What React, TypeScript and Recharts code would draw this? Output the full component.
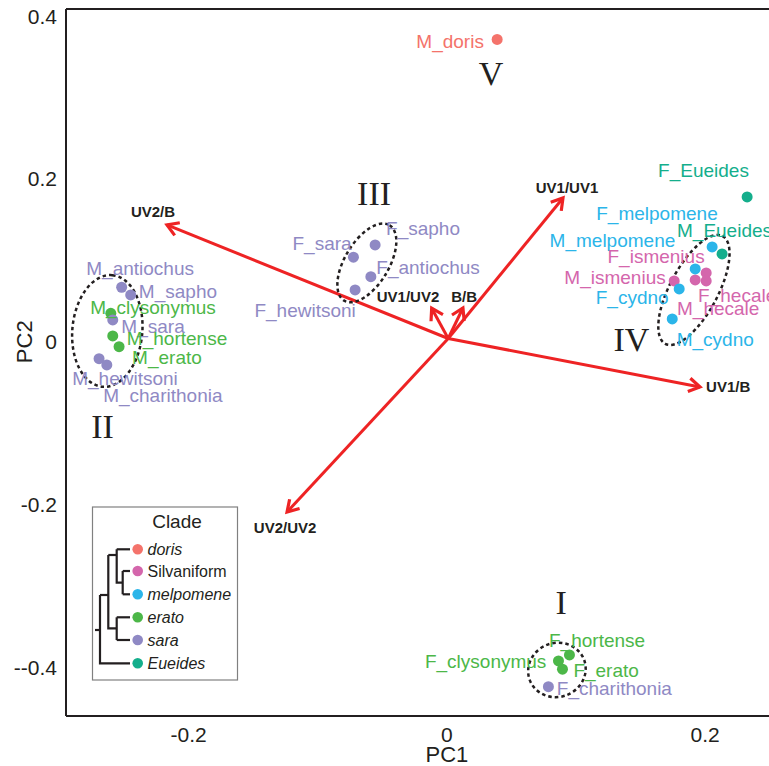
import React from 'react';
import { ScatterChart, Scatter, XAxis, YAxis, ReferenceLine } from 'recharts';

// ---------- axes ----------
const X_MIN = -0.295;
const X_MAX = 0.275;
const Y_MIN = -0.46;
const Y_MAX = 0.409;
const xTicks = [-0.2, 0, 0.2];
const xTickLabels = ['-0.2', '0', '0.2'];
const yTicks = [0.4, 0.2, 0, -0.2, -0.4];
const yTickLabels = ['0.4', '0.2', '0', '-0.2', '--0.4'];

// ---------- clades ----------
const cladeNames = ['doris', 'Silvaniform', 'melpomene', 'erato', 'sara', 'Eueides'];
const cladeColors = ['#F4736B', '#D466AC', '#2BB5E9', '#4CB748', '#8F89C4', '#14AE8C'];
const cladeItalic = [true, false, true, true, true, true];

// ---------- specimens (PC1, PC2) ----------
const dorisPoints = [{ name: 'M_doris', pc1: 0.0389, pc2: 0.3716 }];
const silvaniformPoints = [
  { name: 'M_ismenius', pc1: 0.176, pc2: 0.0747 },
  { name: 'F_ismenius', pc1: 0.2008, pc2: 0.0846 },
  { name: 'F_hecale', pc1: 0.2008, pc2: 0.0747 },
  { name: 'M_hecale', pc1: 0.1923, pc2: 0.076 },
];
const melpomenePoints = [
  { name: 'F_melpomene', pc1: 0.2054, pc2: 0.1165 },
  { name: 'M_melpomene', pc1: 0.1923, pc2: 0.0895 },
  { name: 'F_cydno', pc1: 0.1799, pc2: 0.0649 },
  { name: 'M_cydno', pc1: 0.1745, pc2: 0.028 },
];
const eratoPoints = [
  { name: 'M_clysonymus', pc1: -0.2603, pc2: 0.035 },
  { name: 'M_hortense', pc1: -0.2588, pc2: 0.0071 },
  { name: 'M_erato', pc1: -0.2539, pc2: -0.006 },
  { name: 'F_hortense', pc1: 0.0949, pc2: -0.385 },
  { name: 'F_clysonymus', pc1: 0.0864, pc2: -0.3923 },
  { name: 'F_erato', pc1: 0.0895, pc2: -0.4025 },
];
const saraPoints = [
  { name: 'M_antiochus', pc1: -0.2519, pc2: 0.067 },
  { name: 'M_sapho', pc1: -0.2449, pc2: 0.0575 },
  { name: 'M_sara', pc1: -0.2588, pc2: 0.0268 },
  { name: 'M_hewitsoni', pc1: -0.2694, pc2: -0.0208 },
  { name: 'M_charithonia', pc1: -0.2634, pc2: -0.0285 },
  { name: 'F_sapho', pc1: -0.0556, pc2: 0.119 },
  { name: 'F_sara', pc1: -0.0724, pc2: 0.1039 },
  { name: 'F_antiochus', pc1: -0.0589, pc2: 0.08 },
  { name: 'F_hewitsoni', pc1: -0.0711, pc2: 0.0637 },
  { name: 'F_charithonia', pc1: 0.0786, pc2: -0.4239 },
];
const eueidesPoints = [
  { name: 'F_Eueides', pc1: 0.2325, pc2: 0.178 },
  { name: 'M_Eueides', pc1: 0.2131, pc2: 0.1079 },
];
const cladePoints = [dorisPoints, silvaniformPoints, melpomenePoints, eratoPoints, saraPoints, eueidesPoints];

// ---------- specimen label anchors (text centres, PC units) ----------
const specimenLabels = [
  { name: 'M_doris', pc1: 0.0025, pc2: 0.3697 },
  { name: 'F_Eueides', pc1: 0.1987, pc2: 0.2108 },
  { name: 'F_melpomene', pc1: 0.1627, pc2: 0.158 },
  { name: 'M_Eueides', pc1: 0.215, pc2: 0.1374 },
  { name: 'M_melpomene', pc1: 0.1282, pc2: 0.1251 },
  { name: 'F_ismenius', pc1: 0.162, pc2: 0.1046 },
  { name: 'M_ismenius', pc1: 0.1302, pc2: 0.08 },
  { name: 'F_cydno', pc1: 0.1435, pc2: 0.0554 },
  { name: 'F_hecale', pc1: 0.2248, pc2: 0.0575 },
  { name: 'M_hecale', pc1: 0.2101, pc2: 0.0415 },
  { name: 'M_cydno', pc1: 0.2078, pc2: 0.0031 },
  { name: 'M_antiochus', pc1: -0.2376, pc2: 0.0907 },
  { name: 'M_sapho', pc1: -0.2083, pc2: 0.0624 },
  { name: 'M_clysonymus', pc1: -0.2276, pc2: 0.0428 },
  { name: 'M_sara', pc1: -0.2276, pc2: 0.0194 },
  { name: 'M_hortense', pc1: -0.209, pc2: 0.0047 },
  { name: 'M_erato', pc1: -0.2168, pc2: -0.0187 },
  { name: 'M_hewitsoni', pc1: -0.2493, pc2: -0.0445 },
  { name: 'M_charithonia', pc1: -0.22, pc2: -0.0654 },
  { name: 'F_sapho', pc1: -0.0185, pc2: 0.1399 },
  { name: 'F_sara', pc1: -0.0967, pc2: 0.1214 },
  { name: 'F_antiochus', pc1: -0.0146, pc2: 0.0919 },
  { name: 'F_hewitsoni', pc1: -0.1098, pc2: 0.0391 },
  { name: 'F_hortense', pc1: 0.1163, pc2: -0.3665 },
  { name: 'F_clysonymus', pc1: 0.03, pc2: -0.3932 },
  { name: 'F_erato', pc1: 0.1233, pc2: -0.4034 },
  { name: 'F_charithonia', pc1: 0.1297, pc2: -0.4259 },
];

// ---------- loadings (biplot arrows) ----------
const loadingOrigin = { pc1: 0.001, pc2: 0.004 };
const loadingNames = ['UV2/B', 'UV1/UV1', 'UV1/B', 'UV2/UV2', 'UV1/UV2', 'B/B'];
const loadingPC1 = [-0.2168, 0.0899, 0.196, -0.1238, -0.0118, 0.0124];
const loadingPC2 = [0.1436, 0.1767, -0.0556, -0.2092, 0.0412, 0.0415];
const loadingLabelPC1 = [-0.2276, 0.093, 0.2178, -0.1253, -0.0301, 0.0134];
const loadingLabelPC2 = [0.1597, 0.19, -0.0553, -0.2289, 0.055, 0.055];

// ---------- clusters ----------
const clusterNames = ['I', 'II', 'III', 'IV', 'V'];
const clusterLabelPC1 = [0.0885, -0.2667, -0.0564, 0.1429, 0.0342];
const clusterLabelPC2 = [-0.321, -0.1044, 0.1816, 0.0022, 0.3298];
const ellipseNames = ['I', 'II', 'III', 'IV'];
const ellipsePC1 = [0.0852, -0.263, -0.062, 0.1913];
const ellipsePC2 = [-0.4034, 0.0133, 0.0969, 0.0637];

// ---------- styles ----------
const INK = '#231F20';
const ARROW = '#EE2324';
const SANS = "'Liberation Sans', Arial, Helvetica, sans-serif";
const SERIF = "'Liberation Serif', 'Times New Roman', Times, serif";
const ellipseStyle: Record<string, { rx: number; ry: number; rot: number }> = {
  I: { rx: 29, ry: 27, rot: -20 },
  II: { rx: 56, ry: 35, rot: -85 },
  III: { rx: 44, ry: 22, rot: -59 },
  IV: { rx: 61, ry: 24, rot: -62 },
};

const nameToColor: Record<string, string> = {};
cladePoints.forEach((arr, i) => arr.forEach((p) => (nameToColor[p.name] = cladeColors[i])));

const labelData = specimenLabels.map((l) => ({ ...l }));
const loadingLabelData = loadingNames.map((n, i) => ({ name: n, pc1: loadingLabelPC1[i], pc2: loadingLabelPC2[i] }));
const clusterLabelData = clusterNames.map((n, i) => ({ name: n, pc1: clusterLabelPC1[i], pc2: clusterLabelPC2[i] }));
const ellipseData = ellipseNames.map((n, i) => ({ name: n, pc1: ellipsePC1[i], pc2: ellipsePC2[i] }));

const dotShape = (color: string) => (props: any) => {
  const { cx, cy } = props;
  if (cx == null || cy == null) return <g />;
  return <circle cx={cx} cy={cy} r={5.5} fill={color} />;
};

const specimenLabelShape = (props: any) => {
  const { cx, cy, payload } = props;
  if (cx == null || cy == null) return <g />;
  return (
    <text x={cx} y={cy} dy="0.36em" textAnchor="middle" fontSize={19} fontFamily={SANS} fill={nameToColor[payload.name]}>
      {payload.name}
    </text>
  );
};

const loadingLabelShape = (props: any) => {
  const { cx, cy, payload } = props;
  if (cx == null || cy == null) return <g />;
  return (
    <text x={cx} y={cy} dy="0.36em" textAnchor="middle" fontSize={15} fontWeight="bold" fontFamily={SANS} fill={INK}>
      {payload.name}
    </text>
  );
};

const clusterLabelShape = (props: any) => {
  const { cx, cy, payload } = props;
  if (cx == null || cy == null) return <g />;
  return (
    <text x={cx} y={cy} dy="0.33em" textAnchor="middle" fontSize={34} fontFamily={SERIF} fill={INK}>
      {payload.name}
    </text>
  );
};

const ellipseShape = (props: any) => {
  const { cx, cy, payload } = props;
  if (cx == null || cy == null) return <g />;
  const s = ellipseStyle[payload.name];
  return (
    <ellipse
      cx={cx}
      cy={cy}
      rx={s.rx}
      ry={s.ry}
      transform={`rotate(${s.rot} ${cx} ${cy})`}
      fill="none"
      stroke={INK}
      strokeWidth={2.5}
      strokeDasharray="3.5 3"
    />
  );
};

const arrowShape = (props: any) => {
  const { x1, y1, x2, y2 } = props;
  if ([x1, y1, x2, y2].some((v) => v == null || isNaN(v))) return <g />;
  const ang = Math.atan2(y2 - y1, x2 - x1);
  const len = 13;
  const spread = 0.55;
  const ax = x2 - len * Math.cos(ang - spread);
  const ay = y2 - len * Math.sin(ang - spread);
  const bx = x2 - len * Math.cos(ang + spread);
  const by = y2 - len * Math.sin(ang + spread);
  return (
    <g>
      <line x1={x1} y1={y1} x2={x2} y2={y2} stroke={ARROW} strokeWidth={3} />
      <path d={`M${ax},${ay} L${x2},${y2} L${bx},${by}`} fill="none" stroke={ARROW} strokeWidth={3.2} strokeLinejoin="miter" />
    </g>
  );
};

const xLabel = (props: any) => {
  const vb = props.viewBox || {};
  const x = vb.x + (vb.width * (0 - X_MIN)) / (X_MAX - X_MIN);
  return (
    <text x={x} y={vb.y + vb.height - 4} textAnchor="middle" fontSize={22} fontFamily={SANS} fill={INK}>
      PC1
    </text>
  );
};

const yLabel = (props: any) => {
  const vb = props.viewBox || {};
  const y = vb.y + (vb.height * (Y_MAX - 0)) / (Y_MAX - Y_MIN);
  const x = 24;
  return (
    <text x={x} y={y} dy="0.36em" textAnchor="middle" transform={`rotate(-90 ${x} ${y})`} fontSize={22} fontFamily={SANS} fill={INK}>
      PC2
    </text>
  );
};

const legendRows = [549.3, 571, 594.3, 617.3, 640, 663.3];

function CladeLegend() {
  const tree = [
    'M116.7,549.3 H130',
    'M122.7,571 H130',
    'M122.7,594.3 H130',
    'M122.7,571 V594.3',
    'M116.7,549.3 V582.7 H122.7',
    'M108.3,555 H116.7',
    'M108.3,555 V628.3 H116.7',
    'M116.7,617.3 V640',
    'M116.7,617.3 H130',
    'M116.7,640 H130',
    'M100,595 H108.3',
    'M100,595 V663.3 H130',
    'M95,630 H100',
  ];
  return (
    <svg width={769} height={766} style={{ position: 'absolute', left: 0, top: 0, pointerEvents: 'none' }}>
      <rect x={92.5} y={507} width={145} height={173} fill="none" stroke="#808080" strokeWidth={1.2} />
      <text x={177} y={521.5} dy="0.36em" textAnchor="middle" fontSize={19} fontFamily={SANS} fill={INK}>
        Clade
      </text>
      {tree.map((d, i) => (
        <path key={i} d={d} fill="none" stroke={INK} strokeWidth={2.2} />
      ))}
      {cladeNames.map((c, i) => (
        <g key={c}>
          <circle cx={137.7} cy={legendRows[i]} r={5.3} fill={cladeColors[i]} />
          <text
            x={147.5}
            y={legendRows[i]}
            dy="0.36em"
            fontSize={16}
            fontFamily={SANS}
            fontStyle={cladeItalic[i] ? 'italic' : 'normal'}
            fill={INK}
          >
            {c}
          </text>
        </g>
      ))}
    </svg>
  );
}

export default function App() {
  return (
    <div style={{ position: 'absolute', left: 0, top: 0, width: 769, height: 766, overflow: 'hidden', background: '#fff' }}>
      <ScatterChart width={802} height={766} margin={{ top: 9, right: 0, bottom: 0, left: 0 }}>
        <XAxis
          type="number"
          dataKey="pc1"
          domain={[X_MIN, X_MAX]}
          ticks={xTicks}
          interval={0}
          tickFormatter={(v: number) => xTickLabels[xTicks.indexOf(v)] ?? String(v)}
          height={50}
          tickSize={0}
          tickMargin={11}
          tickLine={false}
          axisLine={{ stroke: INK, strokeWidth: 2 }}
          tick={{ fill: INK, fontSize: 21, fontFamily: SANS }}
          label={xLabel}
        />
        <YAxis
          type="number"
          dataKey="pc2"
          domain={[Y_MIN, Y_MAX]}
          ticks={yTicks}
          interval={0}
          tickFormatter={(v: number) => yTickLabels[yTicks.indexOf(v)] ?? String(v)}
          width={66}
          tickSize={0}
          tickMargin={9}
          tickLine={false}
          axisLine={{ stroke: INK, strokeWidth: 2 }}
          tick={{ fill: INK, fontSize: 21, fontFamily: SANS }}
          label={yLabel}
        />
        <ReferenceLine y={Y_MAX} stroke={INK} strokeWidth={2} />
        <Scatter data={ellipseData} shape={ellipseShape} isAnimationActive={false} />
        {loadingNames.map((n, i) => (
          <ReferenceLine
            key={n}
            segment={[
              { x: loadingOrigin.pc1, y: loadingOrigin.pc2 },
              { x: loadingPC1[i], y: loadingPC2[i] },
            ]}
            shape={arrowShape}
          />
        ))}
        {cladePoints.map((pts, i) => (
          <Scatter key={cladeNames[i]} name={cladeNames[i]} data={pts} shape={dotShape(cladeColors[i])} isAnimationActive={false} />
        ))}
        <Scatter data={labelData} shape={specimenLabelShape} isAnimationActive={false} />
        <Scatter data={loadingLabelData} shape={loadingLabelShape} isAnimationActive={false} />
        <Scatter data={clusterLabelData} shape={clusterLabelShape} isAnimationActive={false} />
      </ScatterChart>
      <CladeLegend />
    </div>
  );
}
